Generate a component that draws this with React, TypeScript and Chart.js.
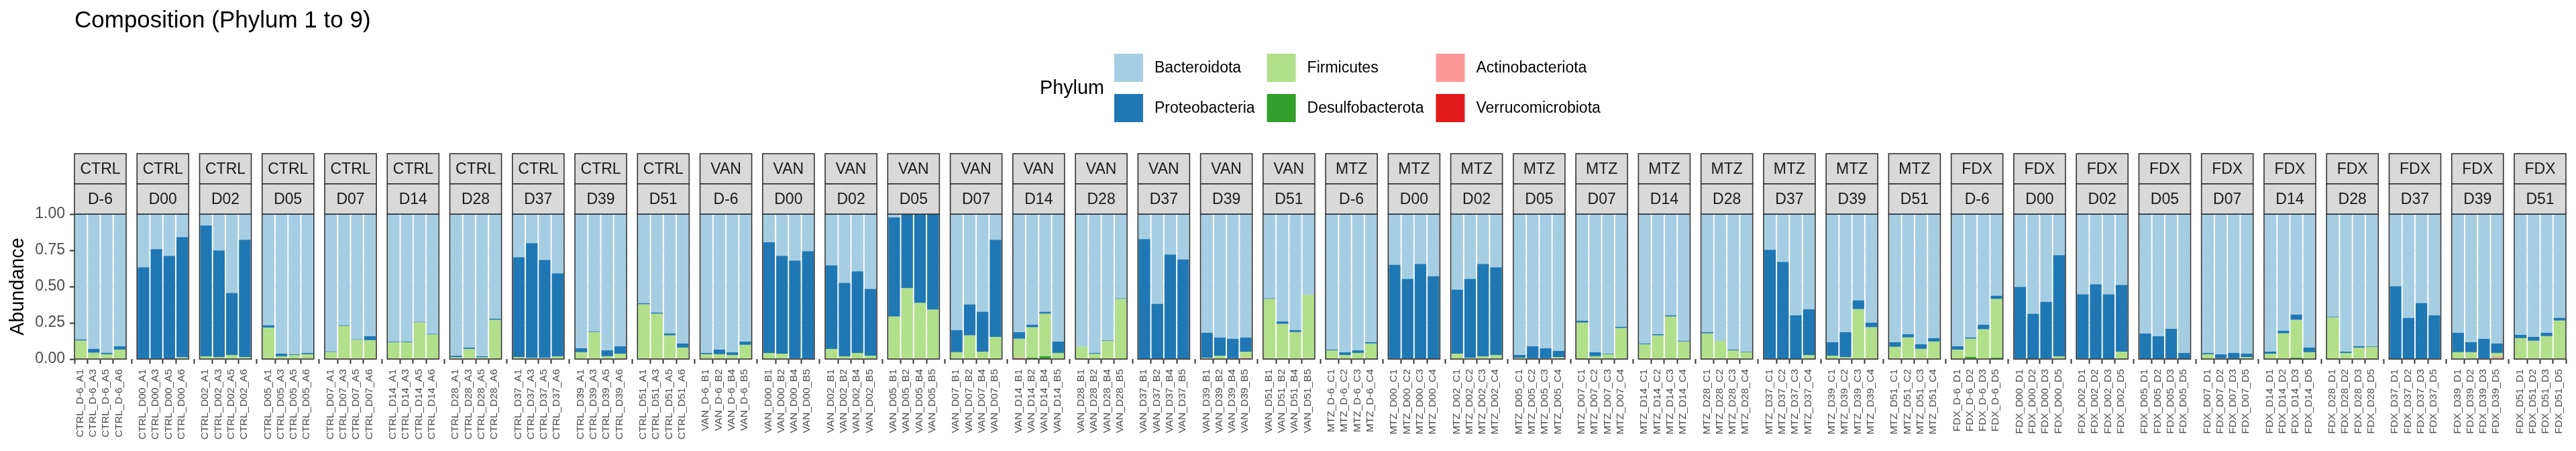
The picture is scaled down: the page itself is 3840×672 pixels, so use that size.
import React, { useEffect, useRef } from "react";
import { Chart, registerables } from "chart.js";

Chart.register(...registerables);

const FONT = "'Liberation Sans', Arial, Helvetica, sans-serif";

// ---------- categories ----------
const groups = ["CTRL", "VAN", "MTZ", "FDX"];
const timepoints = ["D-6", "D00", "D02", "D05", "D07", "D14", "D28", "D37", "D39", "D51"];
const replicatesCTRL = ["A1", "A3", "A5", "A6"];
const replicatesVAN = ["B1", "B2", "B4", "B5"];
const replicatesMTZ = ["C1", "C2", "C3", "C4"];
const replicatesFDX = ["D1", "D2", "D3", "D5"];
const replicateSets = [replicatesCTRL, replicatesVAN, replicatesMTZ, replicatesFDX];

// ---------- legend / series ----------
const phyla = ["Bacteroidota", "Proteobacteria", "Firmicutes", "Desulfobacterota", "Actinobacteriota", "Verrucomicrobiota"];
const phylumColors = ["#A6CEE3", "#1F78B4", "#B2DF8A", "#33A02C", "#FB9A99", "#E31A1C"];
const yTicks = [0, 0.25, 0.5, 0.75, 1];
const yMinorTicks = [0.125, 0.375, 0.625, 0.875];

// ---------- values (one line = one facet, 4 samples) ----------
const bacteroidota = [
  // CTRL
  0.864, 0.930, 0.957, 0.912,
  0.367, 0.242, 0.288, 0.158,
  0.079, 0.251, 0.544, 0.177,
  0.767, 0.963, 0.967, 0.958,
  0.947, 0.767, 0.864, 0.842,
  0.879, 0.879, 0.743, 0.826,
  0.977, 0.921, 0.981, 0.721,
  0.298, 0.200, 0.316, 0.409,
  0.926, 0.809, 0.940, 0.912,
  0.614, 0.679, 0.823, 0.893,
  // VAN
  0.958, 0.935, 0.953, 0.879,
  0.195, 0.288, 0.321, 0.256,
  0.353, 0.474, 0.395, 0.516,
  0.023, 0, 0, 0,
  0.800, 0.623, 0.674, 0.177,
  0.814, 0.763, 0.674, 0.879,
  0.915, 0.958, 0.870, 0.581,
  0.172, 0.619, 0.279, 0.312,
  0.819, 0.851, 0.860, 0.851,
  0.581, 0.740, 0.800, 0.557,
  // MTZ
  0.935, 0.953, 0.940, 0.884,
  0.349, 0.447, 0.344, 0.428,
  0.521, 0.447, 0.344, 0.367,
  0.972, 0.912, 0.926, 0.944,
  0.735, 0.953, 0.963, 0.777,
  0.893, 0.828, 0.698, 0.874,
  0.814, 0.873, 0.935, 0.949,
  0.247, 0.330, 0.698, 0.656,
  0.884, 0.814, 0.595, 0.749,
  0.884, 0.828, 0.898, 0.856,
  // FDX
  0.912, 0.851, 0.763, 0.563,
  0.502, 0.688, 0.605, 0.284,
  0.553, 0.484, 0.553, 0.488,
  0.823, 0.842, 0.791, 0.958,
  0.958, 0.967, 0.958, 0.963,
  0.949, 0.805, 0.693, 0.921,
  0.707, 0.949, 0.912, 0.912,
  0.498, 0.716, 0.614, 0.698,
  0.819, 0.884, 0.860, 0.893,
  0.833, 0.847, 0.819, 0.716,
];

const proteobacteria = [
  // CTRL
  0.009, 0.027, 0.010, 0.023,
  0.631, 0.756, 0.710, 0.831,
  0.902, 0.735, 0.428, 0.809,
  0.017, 0.018, 0.005, 0.009,
  0.005, 0.005, 0.004, 0.028,
  0.005, 0.005, 0.004, 0.005,
  0.009, 0.009, 0.008, 0.009,
  0.688, 0.792, 0.676, 0.572,
  0.027, 0.005, 0.041, 0.051,
  0.009, 0.009, 0.014, 0.028,
  // VAN
  0.009, 0.032, 0.019, 0.023,
  0.763, 0.675, 0.674, 0.743,
  0.577, 0.507, 0.563, 0.461,
  0.684, 0.512, 0.614, 0.660,
  0.153, 0.214, 0.275, 0.670,
  0.046, 0.018, 0.014, 0.079,
  0, 0.005, 0.004, 0.005,
  0.827, 0.380, 0.720, 0.687,
  0.172, 0.126, 0.135, 0.098,
  0.005, 0.018, 0.014, 0.001,
  // MTZ
  0.005, 0.019, 0.018, 0.009,
  0.647, 0.552, 0.655, 0.571,
  0.442, 0.544, 0.637, 0.605,
  0.019, 0.083, 0.069, 0.042,
  0.014, 0.028, 0.004, 0.009,
  0.005, 0.009, 0.009, 0.005,
  0.009, 0.001, 0.005, 0.004,
  0.750, 0.669, 0.301, 0.316,
  0.093, 0.172, 0.061, 0.032,
  0.032, 0.023, 0.032, 0.023,
  // FDX
  0.023, 0.009, 0.032, 0.023,
  0.495, 0.311, 0.392, 0.697,
  0.444, 0.515, 0.446, 0.461,
  0.176, 0.157, 0.208, 0.041,
  0.009, 0.028, 0.039, 0.023,
  0.014, 0.018, 0.037, 0.032,
  0.005, 0.009, 0.009, 0.004,
  0.501, 0.283, 0.385, 0.299,
  0.134, 0.069, 0.137, 0.065,
  0.023, 0.027, 0.023, 0.019,
];

const firmicutes = [
  // CTRL
  0.127, 0.043, 0.033, 0.065,
  0.002, 0.002, 0.002, 0.011,
  0.019, 0.009, 0.028, 0.014,
  0.216, 0.019, 0.028, 0.033,
  0.048, 0.228, 0.132, 0.130,
  0.116, 0.116, 0.253, 0.169,
  0.014, 0.070, 0.011, 0.270,
  0.014, 0.008, 0.008, 0.019,
  0.047, 0.186, 0.019, 0.037,
  0.377, 0.312, 0.163, 0.079,
  // VAN
  0.033, 0.033, 0.028, 0.098,
  0.042, 0.037, 0.005, 0.001,
  0.070, 0.019, 0.042, 0.023,
  0.293, 0.488, 0.386, 0.340,
  0.047, 0.163, 0.051, 0.153,
  0.130, 0.210, 0.293, 0.042,
  0.085, 0.037, 0.126, 0.414,
  0.001, 0.001, 0.001, 0.001,
  0.009, 0.023, 0.005, 0.042,
  0.414, 0.242, 0.186, 0.442,
  // MTZ
  0.060, 0.028, 0.042, 0.103,
  0.004, 0.001, 0.001, 0.001,
  0.037, 0.009, 0.019, 0.028,
  0.009, 0.005, 0.005, 0.009,
  0.251, 0.019, 0.033, 0.214,
  0.102, 0.163, 0.288, 0.121,
  0.177, 0.122, 0.060, 0.047,
  0.003, 0.001, 0.001, 0.028,
  0.023, 0.014, 0.344, 0.219,
  0.084, 0.149, 0.070, 0.121,
  // FDX
  0.065, 0.126, 0.205, 0.405,
  0.003, 0.001, 0.003, 0.019,
  0.003, 0.001, 0.001, 0.051,
  0.001, 0.001, 0.001, 0.001,
  0.030, 0.005, 0.003, 0.014,
  0.037, 0.177, 0.261, 0.047,
  0.284, 0.042, 0.079, 0.084,
  0.001, 0.001, 0.001, 0.003,
  0.047, 0.047, 0.003, 0.028,
  0.144, 0.126, 0.158, 0.265,
];

const desulfobacterota = [
  // CTRL
  0, 0, 0, 0,  0, 0, 0, 0,  0, 0, 0, 0,  0, 0, 0, 0,  0, 0, 0, 0,
  0, 0, 0, 0,  0, 0, 0, 0,  0, 0, 0, 0,  0, 0, 0, 0,  0, 0, 0, 0,
  // VAN
  0, 0, 0, 0,  0, 0, 0, 0,  0, 0, 0, 0,  0, 0, 0, 0,  0, 0, 0, 0,
  0, 0.009, 0.019, 0,  0, 0, 0, 0,  0, 0, 0, 0,  0, 0, 0, 0,  0, 0, 0, 0,
  // MTZ
  0, 0, 0, 0.004,  0, 0, 0, 0,  0, 0, 0, 0,  0, 0, 0, 0,  0, 0, 0, 0,
  0, 0, 0.005, 0,  0, 0.004, 0, 0,  0, 0, 0, 0,  0, 0, 0, 0,  0, 0, 0, 0,
  // FDX
  0, 0.014, 0, 0.009,  0, 0, 0, 0,  0, 0, 0, 0,  0, 0, 0, 0,  0.003, 0, 0, 0,
  0, 0, 0.009, 0,  0.004, 0, 0, 0,  0, 0, 0, 0,  0, 0, 0, 0,  0, 0, 0, 0,
];

const actinobacteriota = [
  // CTRL
  0, 0, 0, 0,  0, 0, 0, 0,  0, 0, 0, 0,  0, 0, 0, 0,  0, 0, 0, 0,
  0, 0, 0, 0,  0, 0, 0, 0,  0, 0, 0, 0,  0, 0, 0, 0,  0, 0, 0, 0,
  // VAN
  0, 0, 0, 0,  0, 0, 0, 0,  0, 0, 0, 0,  0, 0, 0, 0,  0, 0, 0, 0,
  0.008, 0, 0, 0,  0, 0, 0, 0,  0, 0, 0, 0,  0, 0, 0, 0.009,  0, 0, 0, 0,
  // MTZ
  0, 0, 0, 0,  0, 0, 0, 0,  0, 0, 0, 0,  0, 0, 0, 0.005,  0, 0, 0, 0,
  0, 0, 0, 0,  0, 0, 0, 0,  0, 0, 0, 0,  0, 0, 0, 0,  0, 0, 0, 0,
  // FDX
  0, 0, 0, 0,  0, 0, 0, 0,  0, 0, 0, 0,  0, 0, 0, 0,  0, 0, 0, 0,
  0, 0, 0, 0,  0, 0, 0, 0,  0, 0, 0, 0,  0, 0, 0, 0.014,  0, 0, 0, 0,
];

const verrucomicrobiota = [
  // CTRL
  0, 0, 0, 0,  0, 0, 0, 0,  0, 0.005, 0, 0,  0, 0, 0, 0,  0, 0, 0, 0,
  0, 0, 0, 0,  0, 0, 0, 0,  0, 0, 0, 0,  0, 0, 0, 0,  0, 0, 0, 0,
  // VAN
  0, 0, 0, 0,  0, 0, 0, 0,  0, 0, 0, 0,  0, 0, 0, 0,  0, 0, 0, 0,
  0.002, 0, 0, 0,  0, 0, 0, 0,  0, 0, 0, 0,  0, 0, 0, 0,  0, 0, 0, 0,
  // MTZ
  0, 0, 0, 0,  0, 0, 0, 0,  0, 0, 0, 0,  0, 0, 0, 0,  0, 0, 0, 0,
  0, 0, 0, 0,  0, 0, 0, 0,  0, 0, 0, 0,  0, 0, 0, 0,  0, 0, 0, 0,
  // FDX
  0, 0, 0, 0,  0, 0, 0, 0,  0, 0, 0, 0,  0, 0, 0, 0,  0, 0, 0, 0,
  0, 0, 0, 0,  0, 0, 0, 0,  0, 0, 0, 0,  0, 0, 0, 0,  0, 0, 0, 0,
];

const seriesValues = [bacteroidota, proteobacteria, firmicutes, desulfobacterota, actinobacteriota, verrucomicrobiota];

// ---------- derived structure ----------
const BARS_PER_FACET = 4;
const FACET_GAP = 0.842; // panel spacing in bar units
const facets: { group: string; time: string }[] = [];
const sampleLabels: string[] = [];
groups.forEach((g, gi) => {
  timepoints.forEach((t) => {
    facets.push({ group: g, time: t });
    replicateSets[gi].forEach((r) => sampleLabels.push(`${g}_${t}_${r}`));
  });
});
const facetStart = (f: number) => f * (BARS_PER_FACET + FACET_GAP);
const sampleX = sampleLabels.map((_, k) => facetStart(Math.floor(k / BARS_PER_FACET)) + (k % BARS_PER_FACET) + 0.5);
const X_MAX = facetStart(facets.length - 1) + BARS_PER_FACET;

// ---------- layout constants ----------
const W = 3840;
const H = 672;
const PANEL_LEFT = 111;
const PANEL_TOP = 319;
const PANEL_BOTTOM = 535;
const RIGHT_PAD = 15;
const STRIP_TOP = 229;
const STRIP_H = 45;
const DARK = "#333333";

const facetPlugin = {
  id: "facetDecor",
  beforeDatasetsDraw(chart: any) {
    const { ctx, scales } = chart;
    const x = scales.x;
    const y = scales.y;
    ctx.save();
    ctx.strokeStyle = "#EBEBEB";
    facets.forEach((_, f) => {
      const l = x.getPixelForValue(facetStart(f));
      const r = x.getPixelForValue(facetStart(f) + BARS_PER_FACET);
      ctx.lineWidth = 0.9;
      yMinorTicks.forEach((v) => {
        const py = y.getPixelForValue(v);
        ctx.beginPath();
        ctx.moveTo(l, py);
        ctx.lineTo(r, py);
        ctx.stroke();
      });
      ctx.lineWidth = 1.8;
      yTicks.forEach((v) => {
        const py = y.getPixelForValue(v);
        ctx.beginPath();
        ctx.moveTo(l, py);
        ctx.lineTo(r, py);
        ctx.stroke();
      });
    });
    ctx.restore();
  },
  afterDatasetsDraw(chart: any) {
    const { ctx, scales, chartArea } = chart;
    const x = scales.x;
    ctx.save();
    ctx.strokeStyle = DARK;
    ctx.lineWidth = 1.6;
    facets.forEach((_, f) => {
      const l = x.getPixelForValue(facetStart(f));
      const r = x.getPixelForValue(facetStart(f) + BARS_PER_FACET);
      ctx.strokeRect(l, chartArea.top, r - l, chartArea.bottom - chartArea.top);
    });
    ctx.restore();
  },
  afterDraw(chart: any) {
    const { ctx, scales, chartArea } = chart;
    const x = scales.x;
    ctx.save();
    // strips
    facets.forEach((fc, f) => {
      const l = x.getPixelForValue(facetStart(f));
      const r = x.getPixelForValue(facetStart(f) + BARS_PER_FACET);
      [fc.group, fc.time].forEach((txt, row) => {
        const top = STRIP_TOP + row * STRIP_H;
        ctx.fillStyle = "#D9D9D9";
        ctx.fillRect(l, top, r - l, STRIP_H);
        ctx.strokeStyle = DARK;
        ctx.lineWidth = 1.6;
        ctx.strokeRect(l, top, r - l, STRIP_H);
        ctx.fillStyle = "#1A1A1A";
        ctx.font = `23px ${FONT}`;
        ctx.textAlign = "center";
        ctx.textBaseline = "middle";
        ctx.fillText(txt, (l + r) / 2, top + STRIP_H / 2 + 1);
      });
    });
    // title
    ctx.fillStyle = "#000000";
    ctx.font = `35px ${FONT}`;
    ctx.textAlign = "left";
    ctx.textBaseline = "alphabetic";
    ctx.fillText("Composition (Phylum 1 to 9)", PANEL_LEFT, 41);
    // y title
    ctx.save();
    ctx.translate(27, (chartArea.top + chartArea.bottom) / 2);
    ctx.rotate(-Math.PI / 2);
    ctx.font = `28.75px ${FONT}`;
    ctx.textAlign = "center";
    ctx.textBaseline = "middle";
    ctx.fillText("Abundance", 0, 0);
    ctx.restore();
    // legend
    const rowTops = [80, 140];
    const keyW = 43;
    const keyH = 42;
    ctx.font = `28.75px ${FONT}`;
    ctx.textAlign = "left";
    ctx.textBaseline = "middle";
    ctx.fillStyle = "#000000";
    ctx.fillText("Phylum", 1550, 132);
    ctx.font = `23px ${FONT}`;
    let colX = 1661;
    for (let c = 0; c < 3; c++) {
      let maxW = 0;
      for (let rr = 0; rr < 2; rr++) {
        const i = c * 2 + rr;
        const top = rowTops[rr];
        ctx.fillStyle = phylumColors[i];
        ctx.fillRect(colX, top, keyW, keyH);
        ctx.fillStyle = "#000000";
        ctx.fillText(phyla[i], colX + keyW + 17, top + keyH / 2 + 1);
        maxW = Math.max(maxW, ctx.measureText(phyla[i]).width);
      }
      colX += keyW + 17 + maxW + 18;
    }
    ctx.restore();
  },
};

export default function App() {
  const ref = useRef<HTMLCanvasElement | null>(null);
  useEffect(() => {
    if (!ref.current) return;
    // stack order bottom -> top: last phylum first
    const order = [5, 4, 3, 2, 1, 0];
    const datasets = order.map((i) => ({
      label: phyla[i],
      data: sampleX.map((xv, k) => ({ x: xv, y: seriesValues[i][k] === 0 ? null : seriesValues[i][k] })),
      backgroundColor: phylumColors[i],
      borderWidth: 0,
      barPercentage: 0.9,
      categoryPercentage: 1,
    }));
    const chart = new Chart(ref.current, {
      type: "bar",
      data: { datasets } as any,
      options: {
        responsive: false,
        animation: false,
        layout: { padding: { left: 0, right: RIGHT_PAD, top: PANEL_TOP, bottom: 0 } },
        plugins: { legend: { display: false }, title: { display: false }, tooltip: { enabled: false } },
        scales: {
          x: {
            type: "linear",
            min: 0,
            max: X_MAX,
            stacked: true,
            offset: false,
            border: { display: false },
            grid: { display: true, drawOnChartArea: false, drawTicks: true, tickLength: 7, tickColor: DARK, tickWidth: 2 },
            afterBuildTicks: (axis: any) => {
              axis.ticks = sampleX.map((v) => ({ value: v }));
            },
            afterFit: (axis: any) => {
              axis.height = H - PANEL_BOTTOM;
            },
            ticks: {
              autoSkip: false,
              minRotation: 90,
              maxRotation: 90,
              padding: 8,
              labelOffset: -1,
              color: "#4D4D4D",
              font: { family: FONT, size: 15.5, lineHeight: 1 },
              callback: (_v: any, index: number) => sampleLabels[index],
            },
          },
          y: {
            type: "linear",
            min: 0,
            max: 1,
            stacked: true,
            border: { display: false },
            grid: { display: true, drawOnChartArea: false, drawTicks: true, tickLength: 7, tickColor: DARK, tickWidth: 2 },
            afterBuildTicks: (axis: any) => {
              axis.ticks = yTicks.map((v) => ({ value: v }));
            },
            afterFit: (axis: any) => {
              axis.width = PANEL_LEFT;
            },
            ticks: {
              padding: 7,
              color: "#4D4D4D",
              font: { family: FONT, size: 23 },
              callback: (v: any) => Number(v).toFixed(2),
            },
          },
        },
      } as any,
      plugins: [facetPlugin],
    });
    return () => chart.destroy();
  }, []);
  return (
    <div style={{ position: "absolute", left: 0, top: 0, width: W, height: H, background: "#ffffff" }}>
      <canvas ref={ref} width={W} height={H} />
    </div>
  );
}
